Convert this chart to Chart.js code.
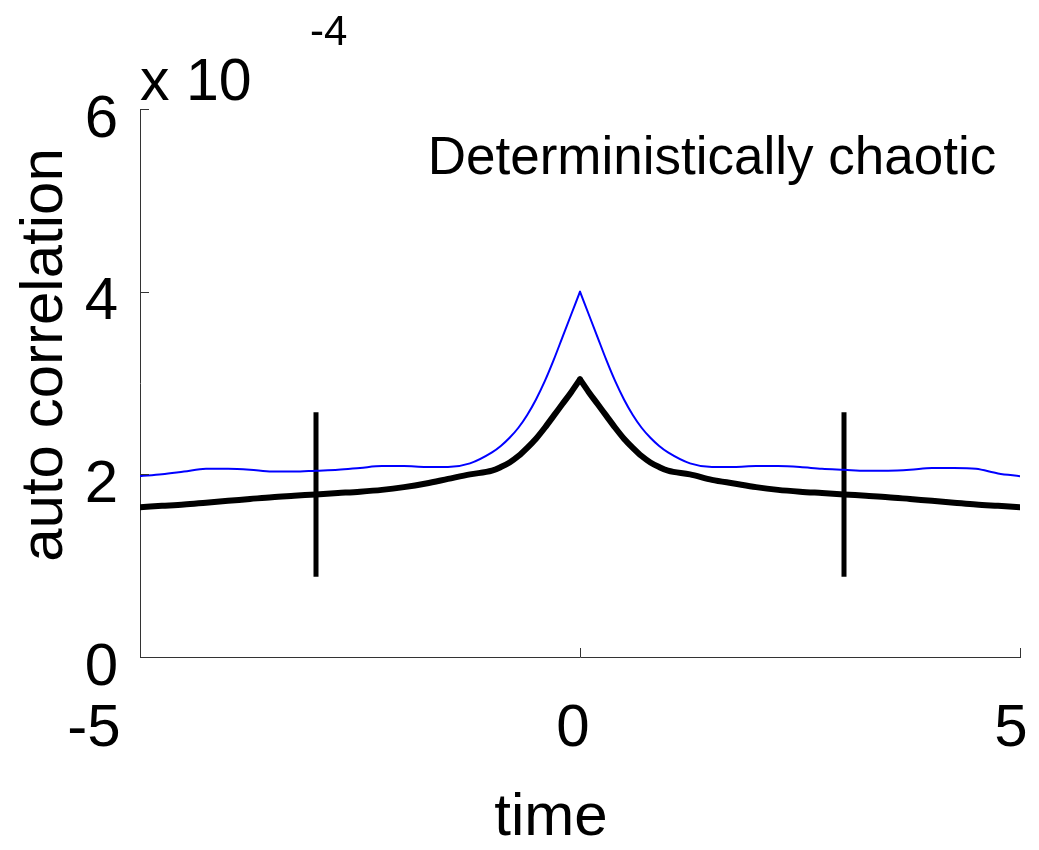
<!DOCTYPE html>
<html>
<head>
<meta charset="utf-8">
<script src="https://cdn.jsdelivr.net/npm/chart.js@4"></script>
<style>
html,body{margin:0;padding:0;background:#fff;}
canvas{display:block;}
</style>
</head>
<body>
<canvas id="c" width="1039" height="850"></canvas>
<script>
// ---- data ----
const times = [-5,-4.75,-4.5,-4.25,-4,-3.75,-3.5,-3.25,-3,-2.75,-2.5,-2.25,-2,-1.75,-1.5,-1.25,
  -1,-0.9,-0.8,-0.7,-0.6,-0.5,-0.4,-0.3,-0.2,-0.1,0,0.1,0.2,0.3,0.4,0.5,0.6,0.7,0.8,0.9,1,
  1.25,1.5,1.75,2,2.25,2.5,2.75,3,3.25,3.5,3.75,4,4.25,4.5,4.75,5];
const blueSeries = [1.98,2.00,2.03,2.06,2.06,2.05,2.03,2.03,2.04,2.05,2.07,2.09,2.09,2.08,2.08,2.12,
  2.24,2.31,2.40,2.51,2.65,2.82,3.02,3.25,3.50,3.75,4.00,3.75,3.50,3.25,3.02,2.82,2.65,2.51,2.40,2.31,2.24,
  2.12,2.08,2.08,2.09,2.09,2.08,2.06,2.05,2.04,2.04,2.05,2.07,2.07,2.06,2.01,1.98];
const blackSeries = [1.64,1.655,1.67,1.69,1.71,1.73,1.75,1.765,1.78,1.795,1.81,1.83,1.86,1.90,1.95,2.00,
  2.04,2.08,2.13,2.20,2.29,2.39,2.51,2.64,2.77,2.90,3.04,2.90,2.77,2.64,2.51,2.39,2.29,2.20,2.13,2.08,2.04,
  2.00,1.94,1.90,1.86,1.83,1.81,1.795,1.78,1.765,1.75,1.73,1.71,1.69,1.67,1.655,1.64];
const markerTimes = [-3, 3];
const markerRange = [0.88, 2.68];
const xTicks = [-5, 0, 5];
const xTickLabels = ['-5', '0', '5'];
const yTicks = [0, 2, 4, 6];
const yTickLabels = ['0', '2', '4', '6'];
const plotLabel = 'Deterministically chaotic';
const plotLabelPos = {x: -1.73, y: 5.29};
const xTitle = 'time';
const yTitle = 'auto correlation';
const expBase = 'x 10';
const expPower = '-4';

// ---- chart ----
const FONT = '"Liberation Sans", Arial, Helvetica, sans-serif';
const toPts = (xs, ys) => xs.map((x, i) => ({x: x, y: ys[i]}));
const peakIdx = times.indexOf(0);

function halves(ys, style) {
  const pts = toPts(times, ys);
  return [pts.slice(0, peakIdx + 1), pts.slice(peakIdx)].map(d => Object.assign({
    data: d, pointRadius: 0, fill: false, cubicInterpolationMode: 'monotone',
    borderCapStyle: 'round', borderJoinStyle: 'round', clip: 0
  }, style));
}

const datasets = [
  ...halves(blueSeries, {borderColor: '#0000ff', borderWidth: 2}),
  ...halves(blackSeries, {borderColor: '#000000', borderWidth: 6})
];
markerTimes.forEach(t => {
  datasets.push({data: [{x: t, y: markerRange[0]}, {x: t, y: markerRange[1]}],
    borderColor: '#000000', borderWidth: 5, pointRadius: 0, fill: false});
});

const decor = {
  id: 'decor',
  afterDraw(chart) {
    const ctx = chart.ctx;
    const xs = chart.scales.x, ys = chart.scales.y;
    const ca = chart.chartArea;
    ctx.save();
    // inward ticks
    ctx.strokeStyle = '#333';
    ctx.lineWidth = 1;
    yTicks.forEach(v => {
      const py = Math.round(ys.getPixelForValue(v)) + 0.5;
      ctx.beginPath(); ctx.moveTo(ca.left, py); ctx.lineTo(ca.left + 9, py); ctx.stroke();
    });
    xTicks.forEach(v => {
      const px = Math.round(xs.getPixelForValue(v)) + 0.5;
      ctx.beginPath(); ctx.moveTo(px, ca.bottom); ctx.lineTo(px, ca.bottom - 9); ctx.stroke();
    });
    ctx.fillStyle = '#000';
    // x tick labels
    const xOff = [-46, -7, -9];
    ctx.font = '60px ' + FONT;
    ctx.textAlign = 'center';
    ctx.textBaseline = 'alphabetic';
    xTicks.forEach((v, i) => {
      ctx.fillText(xTickLabels[i], xs.getPixelForValue(v) + xOff[i], 746);
    });
    // x title
    ctx.fillText(xTitle, 551, 835);
    // y title
    ctx.save();
    ctx.translate(62, 355);
    ctx.rotate(-Math.PI / 2);
    ctx.textAlign = 'center';
    ctx.fillText(yTitle, 0, 0);
    ctx.restore();
    // exponent
    ctx.textAlign = 'left';
    ctx.font = '59px ' + FONT;
    ctx.fillText(expBase, 140, 100);
    ctx.font = '42px ' + FONT;
    ctx.fillText(expPower, 310, 45);
    // in-plot label
    ctx.font = '53px ' + FONT;
    ctx.fillText(plotLabel, xs.getPixelForValue(plotLabelPos.x), ys.getPixelForValue(plotLabelPos.y));
    ctx.restore();
  }
};

new Chart(document.getElementById('c'), {
  type: 'line',
  data: {datasets: datasets},
  options: {
    responsive: false,
    animation: false,
    events: [],
    layout: {padding: {top: 109, right: 19, bottom: 0, left: 0}},
    plugins: {legend: {display: false}, tooltip: {enabled: false}, title: {display: false}},
    scales: {
      x: {
        type: 'linear', min: -5, max: 5,
        grid: {display: false, drawTicks: false},
        border: {display: true, color: '#333', width: 1},
        ticks: {display: false},
        afterFit(s) { s.height = 850 - 657; }
      },
      y: {
        type: 'linear', min: 0, max: 6,
        grid: {display: false, drawTicks: false},
        border: {display: true, color: '#333', width: 1},
        afterBuildTicks(s) { s.ticks = yTicks.map(v => ({value: v})); },
        ticks: {
          color: '#000',
          font: {family: FONT, size: 60},
          padding: 22,
          labelOffset: 11,
          autoSkip: false,
          callback: (v) => yTickLabels[yTicks.indexOf(v)]
        },
        afterFit(s) { s.width = 140; }
      }
    }
  },
  plugins: [decor]
});
</script>
</body>
</html>
